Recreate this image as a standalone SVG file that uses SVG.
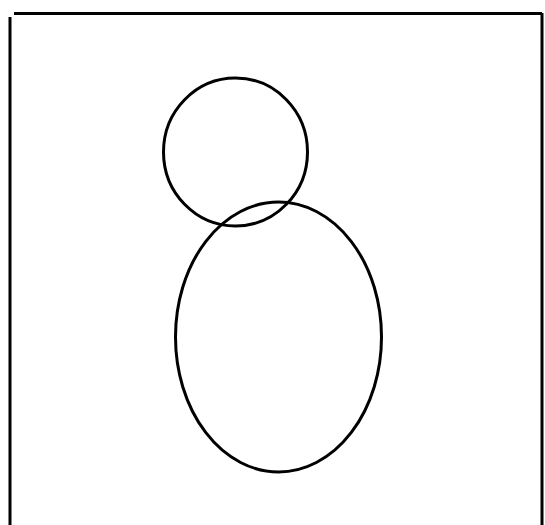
<svg xmlns="http://www.w3.org/2000/svg" width="545" height="525" viewBox="0 0 545 525">
<style>.s{fill:none;stroke:#000;stroke-width:3}</style>
<rect width="545" height="525" fill="#fff"/>
<g id="frame" class="s">
<line x1="14" y1="13.5" x2="542" y2="13.5"/>
<line x1="10" y1="17" x2="10" y2="525"/>
<line x1="542" y1="13" x2="542" y2="525"/>
</g>
<g id="head"><ellipse class="s" cx="235.5" cy="152" rx="72" ry="74"/></g>
<g id="body"><ellipse class="s" cx="278.5" cy="337" rx="103" ry="135"/></g>
</svg>
